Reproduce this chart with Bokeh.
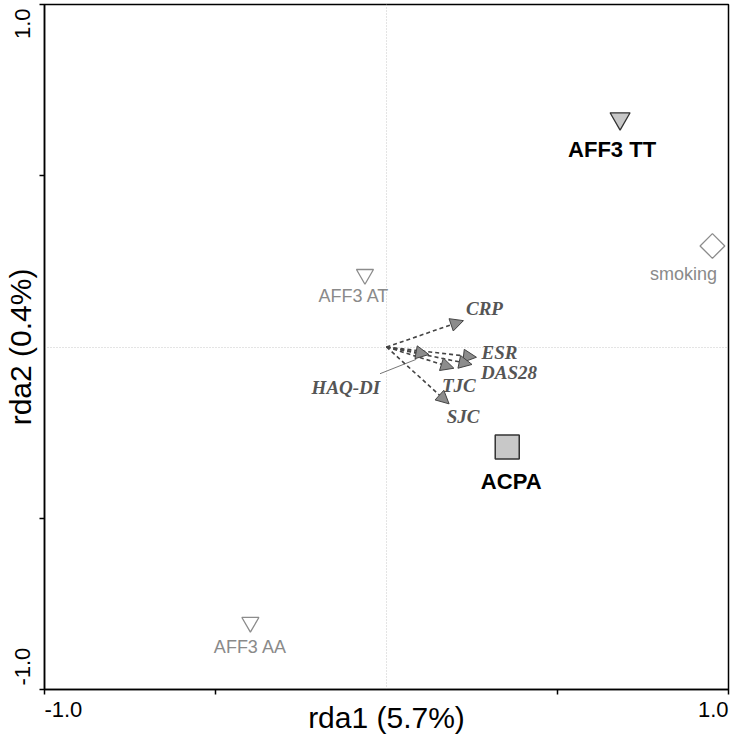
import math
from bokeh.plotting import figure
from bokeh.models import (Arrow, NormalHead, ColumnDataSource, FixedTicker,
                          CustomJSTickFormatter, LinearAxis)
from bokeh.core.properties import value
from bokeh.embed import file_html
from bokeh.resources import INLINE

# ---------------- data ----------------
# explanatory terms (points)
tri_names = ["AFF3 TT", "AFF3 AT", "AFF3 AA"]
tri_x = [0.683, -0.063, -0.398]
tri_y = [0.667, 0.212, -0.804]
smk_name = ["smoking"]
smk_x = [0.953]
smk_y = [0.295]
acpa_name = ["ACPA"]
acpa_x = [0.353]
acpa_y = [-0.292]

# response variables (arrows from origin)
var_names = ["CRP", "ESR", "DAS28", "TJC", "SJC", "HAQ-DI"]
var_x = [0.225, 0.263, 0.250, 0.197, 0.183, 0.124]
var_y = [0.077, -0.030, -0.051, -0.062, -0.166, -0.022]

# HAQ-DI leader line (label -> arrow)
haq_leader_x = [-0.019, 0.087]
haq_leader_y = [-0.078, -0.036]

axis_ticks = [-1.0, -0.5, 0.5, 1.0]
x_tick_labels = ["-1.0", "1.0"]
y_tick_labels = ["-1.0", "1.0"]
x_title = "rda1 (5.7%)"
y_title = "rda2 (0.4%)"

# ---------------- styles ----------------
SANS = "Liberation Sans"
SERIF = "Liberation Serif"
GREY_TXT = "#8a8a8a"
DARK = "#333333"
FILL = "#c8c8c8"

W, H = 732, 736
BL, BR, BT, BB = 42, 4, 4, 46
PPU = (W - BL - BR) / 2.0          # pixels per data unit
TICK_FS = 22
# approximate text widths (px) of tick labels, used to align them to the ends
w_neg = 1.723 * TICK_FS
w_pos = 1.390 * TICK_FS
x_lab_pos = [-1 + (w_neg / 2) / PPU, 1 - (w_pos / 2) / PPU]
y_lab_pos = [-1 + (4 + w_neg / 2) / PPU, 1 - (4 + w_pos / 2) / PPU]

# label offsets (px): dx, dy (screen, +dy downward)
tri_lab_dx = [-8, -11, 0]
tri_lab_dy = [31, 22, 25]
tri_lab_bold = [True, False, False]
var_lab_dx = [21, 23, 37, 5, 14, -83]
var_lab_dy = [-12, -5, 8, 17, 13, 33]

p = figure(width=W, height=H, x_range=(-1, 1), y_range=(-1, 1),
           output_backend="svg", toolbar_location=None,
           min_border_left=BL, min_border_right=BR, min_border_top=BT,
           min_border_bottom=BB)

p.background_fill_color = "white"
p.border_fill_color = "white"
p.outline_line_color = "black"
p.outline_line_width = 1.5
p.outline_line_alpha = 1.0

# tick-mark axes (no labels)
for ax in (p.xaxis[0], p.yaxis[0]):
    ax.ticker = FixedTicker(ticks=axis_ticks)
    ax.formatter = CustomJSTickFormatter(code="return '';")
    ax.major_label_text_font_size = "0px"
    ax.major_label_standoff = 0
    ax.major_tick_out = 5
    ax.major_tick_in = 0
    ax.minor_tick_line_color = None
    ax.axis_line_color = "black"
    ax.axis_line_width = 1.5
    ax.major_tick_line_color = "black"
    ax.major_tick_line_width = 1.5


def label_axis(positions, labels, title, vertical, standoff, title_standoff):
    ax = LinearAxis(ticker=FixedTicker(ticks=positions),
                    formatter=CustomJSTickFormatter(args=dict(labels=labels),
                                                    code="return labels[index];"))
    ax.axis_line_color = None
    ax.major_tick_line_color = None
    ax.minor_tick_line_color = None
    ax.major_tick_out = 0
    ax.major_tick_in = 0
    ax.minor_tick_out = 0
    ax.minor_tick_in = 0
    ax.major_label_standoff = standoff
    ax.major_label_text_font = SANS
    ax.major_label_text_font_size = f"{TICK_FS}px"
    ax.major_label_text_color = "black"
    if vertical:
        ax.major_label_orientation = "vertical"
    ax.axis_label = title
    ax.axis_label_text_font = SANS
    ax.axis_label_text_font_style = "normal"
    ax.axis_label_text_font_size = "30px"
    ax.axis_label_text_color = "black"
    ax.axis_label_standoff = title_standoff
    return ax


p.add_layout(label_axis(x_lab_pos, x_tick_labels, x_title, False, 7, -19), "below")
p.add_layout(label_axis(y_lab_pos, y_tick_labels, y_title, True, 9, -24), "left")

p.xgrid.ticker = FixedTicker(ticks=[0])
p.ygrid.ticker = FixedTicker(ticks=[0])
for g in (p.xgrid[0], p.ygrid[0]):
    g.grid_line_color = "#c8c8c8"
    g.grid_line_dash = "1 2"
    g.grid_line_width = 1

# leader line for HAQ-DI
p.line(haq_leader_x, haq_leader_y, line_color="#777777", line_width=1)

# arrows
asrc = ColumnDataSource(dict(x0=[0.0] * len(var_x), y0=[0.0] * len(var_y),
                             x1=var_x, y1=var_y))
p.add_layout(Arrow(x_start="x0", y_start="y0", x_end="x1", y_end="y1", source=asrc,
                   line_color="#444444", line_width=1.6, line_dash="4 3",
                   end=NormalHead(size=13, fill_color="#8c8c8c",
                                  line_color="#444444", line_width=1)))

# arrow labels
p.text(x=var_x, y=var_y, text=var_names, x_offset=var_lab_dx, y_offset=var_lab_dy,
       text_font=value(SERIF), text_font_style="bold italic",
       text_font_size="19px", text_color="#555555",
       text_align="center", text_baseline="middle")

# triangles
tri_fill = [FILL, None, None]
tri_line = [DARK, "#8c8c8c", "#8c8c8c"]
tri_size = [20, 17, 17]
p.scatter(x=tri_x, y=tri_y, marker="inverted_triangle", size=tri_size,
          fill_color=tri_fill, line_color=tri_line, line_width=1.3)

# smoking diamond
p.scatter(x=smk_x, y=smk_y, marker="square", angle=math.pi / 4, size=17.5,
          fill_color=None, line_color="#8c8c8c", line_width=1.3)

# ACPA square
p.scatter(x=acpa_x, y=acpa_y, marker="square", size=24,
          fill_color=FILL, line_color=DARK, line_width=1.5)

# point labels
for i, name in enumerate(tri_names):
    p.text(x=[tri_x[i]], y=[tri_y[i]], text=[name], x_offset=tri_lab_dx[i],
           y_offset=tri_lab_dy[i], text_font=value(SANS),
           text_font_style="bold" if tri_lab_bold[i] else "normal",
           text_font_size="22px" if tri_lab_bold[i] else "18px",
           text_color="black" if tri_lab_bold[i] else GREY_TXT,
           text_align="center", text_baseline="middle")

p.text(x=smk_x, y=smk_y, text=smk_name, x_offset=-29, y_offset=28,
       text_font=value(SANS), text_font_size="18px", text_color=GREY_TXT,
       text_align="center", text_baseline="middle")
p.text(x=acpa_x, y=acpa_y, text=acpa_name, x_offset=4, y_offset=34,
       text_font=value(SANS), text_font_style="bold", text_font_size="22px",
       text_color="black", text_align="center", text_baseline="middle")

open("out.html", "w").write(file_html(p, INLINE))
